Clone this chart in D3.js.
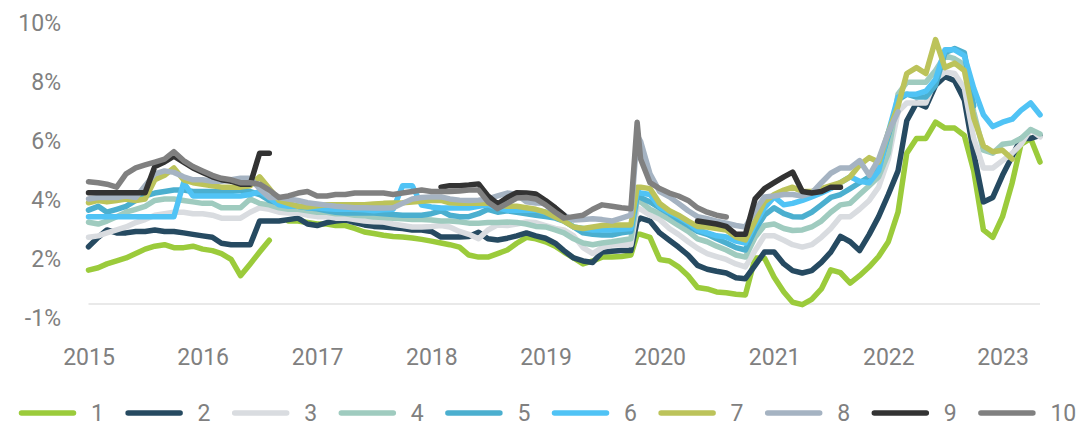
<!DOCTYPE html>
<html>
<head>
<meta charset="utf-8">
<script src="https://cdn.jsdelivr.net/npm/d3@7"></script>
<style>
  html, body { margin: 0; padding: 0; background: #ffffff; }
  svg { display: block; }
</style>
</head>
<body>
<svg id="chart" width="1076" height="428"></svg>
<script>
// Observation dates (monthly, plus one extra point in late Oct 2019)
const dates = [
  "2015-01-01","2015-02-01","2015-03-01","2015-04-01","2015-05-01","2015-06-01","2015-07-01","2015-08-01","2015-09-01","2015-10-01","2015-11-01","2015-12-01",
  "2016-01-01","2016-02-01","2016-03-01","2016-04-01","2016-05-01","2016-06-01","2016-07-01","2016-08-01","2016-09-01","2016-10-01","2016-11-01","2016-12-01",
  "2017-01-01","2017-02-01","2017-03-01","2017-04-01","2017-05-01","2017-06-01","2017-07-01","2017-08-01","2017-09-01","2017-10-01","2017-11-01","2017-12-01",
  "2018-01-01","2018-02-01","2018-03-01","2018-04-01","2018-05-01","2018-06-01","2018-07-01","2018-08-01","2018-09-01","2018-10-01","2018-11-01","2018-12-01",
  "2019-01-01","2019-02-01","2019-03-01","2019-04-01","2019-05-01","2019-06-01","2019-07-01","2019-08-01","2019-09-01","2019-10-01","2019-10-21","2019-11-01","2019-12-01",
  "2020-01-01","2020-02-01","2020-03-01","2020-04-01","2020-05-01","2020-06-01","2020-07-01","2020-08-01","2020-09-01","2020-10-01","2020-11-01","2020-12-01",
  "2021-01-01","2021-02-01","2021-03-01","2021-04-01","2021-05-01","2021-06-01","2021-07-01","2021-08-01","2021-09-01","2021-10-01","2021-11-01","2021-12-01",
  "2022-01-01","2022-02-01","2022-03-01","2022-04-01","2022-05-01","2022-06-01","2022-07-01","2022-08-01","2022-09-01","2022-10-01","2022-11-01","2022-12-01",
  "2023-01-01","2023-02-01","2023-03-01","2023-04-01","2023-05-01"
];

// Yield series, in percent (null = no observation)
const series1 = [
  1.64,1.72,1.85,1.95,2.05,2.2,2.35,2.45,2.5,2.4,2.4,2.45,
  2.35,2.3,2.2,2.0,1.45,1.85,2.25,2.65,null,3.3,3.3,3.25,
  3.2,3.2,3.15,3.15,3.05,2.93,2.88,2.82,2.78,2.76,2.73,2.68,
  2.62,2.56,2.5,2.42,2.15,2.08,2.08,2.2,2.32,2.55,2.75,2.7,
  2.6,2.45,2.25,2.05,1.85,1.95,2.08,2.08,2.1,2.15,2.85,2.85,2.75,
  2.0,1.95,1.75,1.45,1.05,1.0,0.9,0.87,0.82,0.8,2.05,2.05,
  1.4,0.9,0.55,0.47,0.65,1.0,1.65,1.55,1.2,1.45,1.75,2.1,
  2.6,3.6,5.6,6.1,6.1,6.65,6.45,6.45,6.2,5.0,3.0,2.75,
  3.45,4.6,5.9,6.1,5.3
];
const series2 = [
  2.43,2.75,3.0,2.9,2.9,2.95,2.95,3.0,2.95,2.95,2.9,2.85,
  2.8,2.75,2.55,2.5,2.5,2.5,3.3,3.3,3.3,3.35,3.4,3.2,
  3.15,3.25,3.3,3.34,3.25,3.17,3.12,3.1,3.07,3.05,3.0,3.0,
  2.95,2.76,2.76,2.76,2.78,2.92,2.7,2.66,2.72,2.8,2.9,2.8,
  2.72,2.55,2.3,2.05,1.95,1.9,2.25,2.28,2.3,2.3,3.3,3.4,3.3,
  2.9,2.65,2.42,2.15,1.8,1.67,1.6,1.54,1.38,1.35,1.8,2.25,
  2.25,1.85,1.62,1.54,1.62,1.9,2.25,2.78,2.6,2.3,2.85,3.45,
  4.2,5.0,6.7,7.3,7.17,7.9,8.2,8.05,7.4,5.6,3.95,4.1,
  4.85,5.5,6.1,6.1,6.2
];
const series3 = [
  2.75,2.8,2.9,3.0,3.1,3.25,3.35,3.5,3.55,3.6,3.6,3.55,
  3.55,3.5,3.4,3.4,3.4,3.6,3.75,3.7,3.6,3.57,3.57,3.5,
  3.45,3.45,3.4,3.4,3.35,3.3,3.28,3.27,3.2,3.15,3.1,3.1,
  3.12,3.15,3.1,2.95,2.85,2.7,3.0,3.17,3.15,3.2,3.27,3.25,
  3.15,3.05,3.0,2.8,2.4,2.2,2.4,2.49,2.5,2.5,3.75,3.7,3.5,
  3.35,3.05,2.85,2.6,2.38,2.2,2.1,2.0,1.85,1.75,2.3,2.8,
  2.8,2.65,2.5,2.42,2.5,2.75,3.05,3.45,3.45,3.7,4.0,4.45,
  5.4,7.0,7.3,7.3,7.3,8.1,8.35,8.3,7.8,6.1,5.1,5.1,
  5.35,5.6,5.9,6.4,6.15
];
const series4 = [
  3.26,3.2,3.3,3.45,3.6,3.7,3.8,4.0,4.05,4.05,4.0,3.95,
  3.9,3.9,3.75,3.75,3.75,4.05,3.9,3.85,3.75,3.7,3.7,3.65,
  3.6,3.6,3.55,3.55,3.5,3.48,3.44,3.42,3.4,3.38,3.35,3.35,
  3.34,3.3,3.3,3.28,3.23,3.23,3.25,3.25,3.27,3.25,3.2,3.12,
  3.1,3.0,2.9,2.7,2.56,2.5,2.56,2.6,2.65,2.7,4.0,3.95,3.7,
  3.55,3.35,3.15,2.95,2.7,2.6,2.45,2.32,2.15,2.08,2.75,3.15,
  3.2,3.05,2.98,3.0,3.1,3.3,3.6,3.85,3.9,4.2,4.5,4.8,
  5.6,7.6,8.0,8.0,8.0,8.4,8.9,8.8,8.6,7.0,5.7,5.6,
  5.9,5.95,6.1,6.4,6.25
];
const series5 = [
  3.67,3.8,3.6,3.7,3.8,4.0,4.15,4.25,4.3,4.35,4.35,4.3,
  4.3,4.3,4.3,4.3,4.35,4.3,4.2,4.0,3.9,3.85,3.8,3.75,
  3.72,3.65,3.6,3.57,3.57,3.57,3.57,3.55,3.52,3.5,3.5,3.5,
  3.55,3.65,3.5,3.45,3.45,3.55,3.7,3.6,3.65,3.6,3.55,3.5,
  3.45,3.4,3.3,3.1,2.9,2.85,2.83,2.83,2.9,2.95,4.15,4.1,3.95,
  3.75,3.55,3.35,3.15,2.95,2.85,2.7,2.56,2.4,2.32,3.0,3.5,
  3.75,3.55,3.45,3.44,3.6,3.85,4.1,4.2,4.4,4.6,4.8,5.1,
  6.2,7.4,7.6,7.5,7.5,7.9,9.0,9.15,9.0,7.2,null,null,
  null,null,null,null,null
];
const series6 = [
  3.45,3.45,3.45,3.45,3.45,3.45,3.45,3.45,3.45,3.45,4.6,4.15,
  4.15,4.15,4.15,4.15,4.15,4.2,4.3,4.1,3.85,3.8,3.8,3.75,
  3.75,3.72,3.7,3.7,3.7,3.68,3.65,3.68,3.7,4.5,4.5,3.84,
  3.78,3.74,3.74,3.74,3.74,3.8,3.85,3.75,3.67,3.67,3.67,3.67,
  3.6,3.5,3.35,3.1,3.05,3.0,3.0,3.0,3.02,3.05,4.3,4.25,4.2,
  3.78,3.6,3.45,3.25,3.0,2.9,2.8,2.76,2.62,2.56,3.2,3.75,
  4.12,3.85,3.9,4.0,4.12,4.25,4.4,4.6,4.8,4.65,4.6,5.0,
  6.3,7.5,7.6,7.6,7.7,8.1,9.1,9.1,8.9,7.8,6.9,6.5,
  6.65,6.75,7.05,7.3,6.9
];
const series7 = [
  3.92,4.0,3.95,4.0,4.05,4.0,4.05,4.7,4.85,5.1,4.7,4.6,
  4.55,4.5,4.45,4.45,4.45,4.5,4.8,4.4,4.0,3.9,3.8,3.78,
  3.82,3.85,3.85,3.85,3.85,3.85,3.88,3.9,3.91,3.92,3.95,3.97,
  4.0,4.0,3.92,3.9,3.9,3.91,3.9,3.85,3.8,3.8,3.75,3.7,
  3.6,3.44,3.3,3.1,3.05,3.1,3.15,3.17,3.17,3.17,4.45,4.45,4.4,
  3.9,3.65,3.5,3.3,3.12,3.1,3.05,3.0,2.76,2.66,3.3,3.95,
  4.2,4.35,4.45,4.3,4.3,4.4,4.5,4.6,4.8,5.2,5.45,5.3,
  6.3,7.2,8.3,8.5,8.3,9.45,8.5,8.65,8.4,6.8,5.85,5.65,
  5.7,5.4,null,null,null
];
const series8 = [
  4.05,4.1,4.1,4.1,4.15,4.1,4.5,4.9,5.0,4.95,4.8,4.7,
  4.7,4.65,4.65,4.7,4.75,4.75,4.4,4.1,4.1,4.05,4.0,3.92,
  3.88,3.84,3.8,3.78,3.75,3.75,3.74,3.74,3.75,3.9,4.05,4.1,
  4.12,4.12,4.05,4.01,4.0,4.01,4.05,4.15,4.25,4.2,3.95,3.91,
  3.9,3.75,3.5,3.34,3.35,3.38,3.35,3.3,3.4,3.5,6.2,6.0,4.9,
  4.3,4.12,3.9,3.65,3.45,3.38,3.3,3.23,3.15,3.1,3.65,4.12,
  4.15,4.2,4.2,4.15,4.25,4.6,4.92,5.1,5.1,5.35,4.85,5.4,
  6.3,7.0,null,null,null,null,null,null,null,null,null,null,
  null,null,null,null,null
];
const series9 = [
  4.26,4.26,4.26,4.26,4.26,4.26,4.26,5.15,5.3,5.5,5.3,5.1,
  4.95,4.8,4.7,4.65,4.55,4.55,5.6,5.6,null,null,null,null,
  null,null,null,null,null,null,null,null,null,null,null,null,
  null,4.45,4.5,4.5,4.52,4.56,4.15,3.88,4.1,4.26,4.25,4.22,
  4.0,3.75,3.5,null,null,null,null,null,null,null,null,null,null,
  null,null,null,null,3.3,3.25,3.2,3.12,2.85,2.85,4.05,4.4,
  4.6,4.8,4.96,4.3,4.25,4.3,4.45,4.45,null,null,null,null,
  null,null,null,null,null,null,null,null,null,null,null,null,
  null,null,null,null,null
];
const series10 = [
  4.63,4.6,4.55,4.45,4.9,5.1,5.2,5.3,5.4,5.65,5.35,5.15,
  5.0,4.85,4.75,4.7,4.6,4.6,4.55,4.35,4.1,4.15,4.25,4.3,
  4.15,4.15,4.2,4.2,4.25,4.25,4.25,4.25,4.2,4.25,4.3,4.35,
  4.3,4.3,4.3,4.32,4.35,4.35,3.95,3.72,3.9,4.08,4.1,4.05,
  3.85,3.6,3.4,3.45,3.5,3.7,3.85,3.8,3.75,3.72,6.65,5.4,4.6,
  4.4,4.25,4.15,4.0,3.75,3.6,3.5,3.44,null,null,null,null,
  null,null,null,null,null,null,null,null,null,null,null,null,
  null,null,null,null,null,null,null,null,null,null,null,null,
  null,null,null,null,null
];

const seriesNames = ["1", "2", "3", "4", "5", "6", "7", "8", "9", "10"];
const seriesColors = ["#9bcb3b", "#264a61", "#d9dce0", "#9fcbbf", "#4bafcf",
                      "#50c3f5", "#bcc35a", "#a5b3c2", "#333333", "#808080"];

const yTickValues = [0, 2, 4, 6, 8, 10];
const yTickLabels = ["-1%", "2%", "4%", "6%", "8%", "10%"];
const xTickLabels = ["2015", "2016", "2017", "2018", "2019", "2020", "2021", "2022", "2023"];

// ---- layout ----
const textColor = "#808080";
const fontFamily = "Roboto, 'Open Sans', sans-serif";
const fontSize = 23;
const axisLineValue = 0.49;

const parse = d3.utcParse("%Y-%m-%d");
const parsedDates = dates.map(parse);
const allSeries = [series1, series2, series3, series4, series5,
                   series6, series7, series8, series9, series10];

const svg = d3.select("#chart");

const x = d3.scaleUtc()
  .domain([parse("2015-01-01"), parse("2023-01-01")])
  .range([88.5, 1002.5]);

const y = d3.scaleLinear()
  .domain([0, 10])
  .range([318.5, 23.3]);

// horizontal axis line
svg.append("line")
  .attr("x1", x(parsedDates[0]))
  .attr("x2", x(parsedDates[parsedDates.length - 1]))
  .attr("y1", y(axisLineValue))
  .attr("y2", y(axisLineValue))
  .attr("stroke", "#e2e2e2")
  .attr("stroke-width", 1.6);

// y axis labels
const yAxis = d3.axisLeft(y)
  .tickValues(yTickValues)
  .tickFormat((d, i) => yTickLabels[i])
  .tickSize(0)
  .tickPadding(9);

svg.append("g")
  .attr("transform", "translate(70,0)")
  .call(yAxis)
  .call(g => g.select(".domain").remove())
  .call(g => g.selectAll("text")
    .attr("fill", textColor)
    .attr("font-family", fontFamily)
    .attr("font-size", fontSize));

// x axis labels
const xAxis = d3.axisBottom(x)
  .tickValues(xTickLabels.map(yr => parse(yr + "-01-01")))
  .tickFormat((d, i) => xTickLabels[i])
  .tickSize(0)
  .tickPadding(9);

svg.append("g")
  .attr("transform", "translate(0,340)")
  .call(xAxis)
  .call(g => g.select(".domain").remove())
  .call(g => g.selectAll("text")
    .attr("fill", textColor)
    .attr("font-family", fontFamily)
    .attr("font-size", fontSize));

// series lines, 1 drawn first, 10 on top
const line = d3.line()
  .defined(d => d.v !== null)
  .x(d => x(d.date))
  .y(d => y(d.v));

const plot = svg.append("g").attr("class", "lines");
allSeries.forEach((values, i) => {
  const pts = values.map((v, j) => ({ date: parsedDates[j], v: v }));
  plot.append("path")
    .datum(pts)
    .attr("d", line)
    .attr("fill", "none")
    .attr("stroke", seriesColors[i])
    .attr("stroke-width", 5.5)
    .attr("stroke-linecap", "round")
    .attr("stroke-linejoin", "round");
});

// legend
const legend = svg.append("g").attr("class", "legend");
seriesNames.forEach((name, i) => {
  const g = legend.append("g")
    .attr("transform", `translate(${19 + i * 106.6},413)`);
  g.append("line")
    .attr("x1", 2.5).attr("x2", 54.5)
    .attr("y1", 0).attr("y2", 0)
    .attr("stroke", seriesColors[i])
    .attr("stroke-width", 5.5)
    .attr("stroke-linecap", "round");
  g.append("text")
    .attr("x", 72)
    .attr("y", 8.2)
    .attr("fill", textColor)
    .attr("font-family", fontFamily)
    .attr("font-size", fontSize)
    .text(name);
});
</script>
</body>
</html>
